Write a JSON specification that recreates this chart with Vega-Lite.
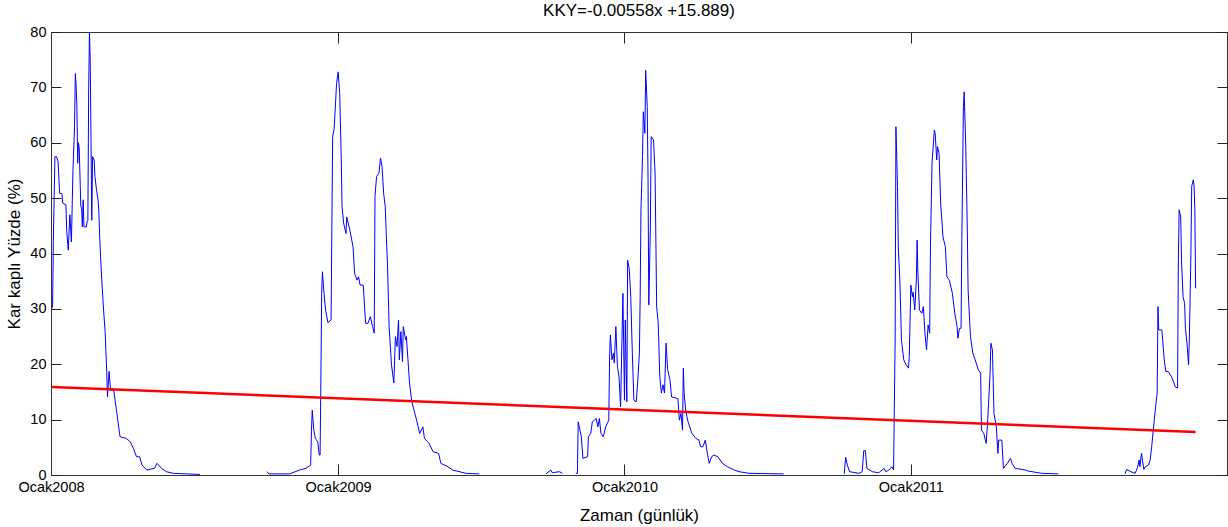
{
  "$schema": "https://vega.github.io/schema/vega-lite/v6.json",
  "width": 1176,
  "height": 443,
  "autosize": "none",
  "padding": {"left": 51, "top": 32, "right": 1, "bottom": 52},
  "background": "white",
  "config": {
    "font": "Liberation Sans",
    "view": {"stroke": "#333333", "strokeWidth": 1},
    "axis": {"grid": false, "labelFont": "Liberation Sans", "titleFont": "Liberation Sans", "labelColor": "#000000", "titleColor": "#000000", "tickColor": "#222222", "domainColor": "#333333", "labelFontSize": 14.5, "titleFontSize": 17, "titleFontWeight": "normal"},
    "title": {"font": "Liberation Sans", "fontSize": 17, "fontWeight": "normal", "color": "#000000"}
  },
  "title": {"text": "KKY=-0.00558x +15.889)", "offset": 4},
  "datasets": {
    "snow": [
      {"day": 2, "kky": 30.2, "season": 1}, {"day": 3, "kky": 42.4, "season": 1}, {"day": 5, "kky": 57.5, "season": 1}, {"day": 7, "kky": 57.5, "season": 1}, {"day": 9, "kky": 56.6, "season": 1}, {"day": 11, "kky": 50.9, "season": 1}, {"day": 14, "kky": 50.8, "season": 1}, {"day": 15, "kky": 49.1, "season": 1}, {"day": 19, "kky": 48.8, "season": 1}, {"day": 20, "kky": 44.2, "season": 1}, {"day": 22, "kky": 40.6, "season": 1}, {"day": 24, "kky": 47.0, "season": 1}, {"day": 26, "kky": 42.1, "season": 1}, {"day": 28, "kky": 55.0, "season": 1}, {"day": 30, "kky": 62.9, "season": 1}, {"day": 31, "kky": 72.5, "season": 1}, {"day": 32, "kky": 70.4, "season": 1}, {"day": 33, "kky": 66.8, "season": 1}, {"day": 34, "kky": 56.3, "season": 1}, {"day": 35, "kky": 60.0, "season": 1}, {"day": 36, "kky": 59.0, "season": 1}, {"day": 38, "kky": 48.5, "season": 1}, {"day": 39, "kky": 48.2, "season": 1}, {"day": 40, "kky": 44.8, "season": 1}, {"day": 41, "kky": 49.7, "season": 1}, {"day": 42, "kky": 44.8, "season": 1}, {"day": 45, "kky": 44.8, "season": 1}, {"day": 46, "kky": 45.7, "season": 1}, {"day": 47, "kky": 46.0, "season": 1}, {"day": 48, "kky": 69.5, "season": 1}, {"day": 49, "kky": 80.0, "season": 1}, {"day": 50, "kky": 75.0, "season": 1}, {"day": 52, "kky": 46.0, "season": 1}, {"day": 53, "kky": 57.5, "season": 1}, {"day": 55, "kky": 56.9, "season": 1}, {"day": 56, "kky": 53.9, "season": 1}, {"day": 58, "kky": 51.5, "season": 1}, {"day": 60, "kky": 49.7, "season": 1}, {"day": 61, "kky": 47.5, "season": 1}, {"day": 62, "kky": 43.3, "season": 1}, {"day": 64, "kky": 37.0, "season": 1}, {"day": 67, "kky": 29.8, "season": 1}, {"day": 69, "kky": 25.9, "season": 1}, {"day": 71, "kky": 18.7, "season": 1}, {"day": 72, "kky": 14.1, "season": 1}, {"day": 74, "kky": 18.7, "season": 1}, {"day": 76, "kky": 15.3, "season": 1}, {"day": 80, "kky": 15.3, "season": 1}, {"day": 84, "kky": 11.1, "season": 1}, {"day": 88, "kky": 6.9, "season": 1}, {"day": 96, "kky": 6.6, "season": 1}, {"day": 101, "kky": 6.0, "season": 1}, {"day": 105, "kky": 4.8, "season": 1}, {"day": 109, "kky": 3.3, "season": 1}, {"day": 113, "kky": 3.3, "season": 1}, {"day": 116, "kky": 1.8, "season": 1}, {"day": 122, "kky": 0.9, "season": 1}, {"day": 132, "kky": 1.2, "season": 1}, {"day": 135, "kky": 2.1, "season": 1}, {"day": 141, "kky": 1.2, "season": 1}, {"day": 147, "kky": 0.6, "season": 1}, {"day": 156, "kky": 0.3, "season": 1}, {"day": 190, "kky": 0.1, "season": 1},
      {"day": 275, "kky": 0.6, "season": 2}, {"day": 278, "kky": 0.2, "season": 2}, {"day": 304, "kky": 0.2, "season": 2}, {"day": 317, "kky": 0.9, "season": 2}, {"day": 325, "kky": 1.2, "season": 2}, {"day": 331, "kky": 1.8, "season": 2}, {"day": 332, "kky": 8.0, "season": 2}, {"day": 333, "kky": 11.7, "season": 2}, {"day": 335, "kky": 8.1, "season": 2}, {"day": 337, "kky": 6.6, "season": 2}, {"day": 340, "kky": 6.0, "season": 2}, {"day": 342, "kky": 3.6, "season": 2}, {"day": 343, "kky": 3.6, "season": 2}, {"day": 344, "kky": 17.2, "season": 2}, {"day": 345, "kky": 32.8, "season": 2}, {"day": 346, "kky": 36.7, "season": 2}, {"day": 348, "kky": 32.8, "season": 2}, {"day": 350, "kky": 29.8, "season": 2}, {"day": 353, "kky": 27.5, "season": 2}, {"day": 357, "kky": 28.0, "season": 2}, {"day": 358, "kky": 44.8, "season": 2}, {"day": 359, "kky": 61.1, "season": 2}, {"day": 361, "kky": 62.6, "season": 2}, {"day": 364, "kky": 70.7, "season": 2}, {"day": 366, "kky": 72.8, "season": 2}, {"day": 368, "kky": 68.9, "season": 2}, {"day": 370, "kky": 56.9, "season": 2}, {"day": 371, "kky": 48.5, "season": 2}, {"day": 373, "kky": 45.5, "season": 2}, {"day": 376, "kky": 43.6, "season": 2}, {"day": 377, "kky": 46.6, "season": 2}, {"day": 381, "kky": 44.2, "season": 2}, {"day": 385, "kky": 41.2, "season": 2}, {"day": 387, "kky": 36.4, "season": 2}, {"day": 390, "kky": 35.2, "season": 2}, {"day": 392, "kky": 35.8, "season": 2}, {"day": 394, "kky": 34.3, "season": 2}, {"day": 398, "kky": 34.3, "season": 2}, {"day": 401, "kky": 27.4, "season": 2}, {"day": 404, "kky": 27.4, "season": 2}, {"day": 407, "kky": 28.6, "season": 2}, {"day": 410, "kky": 26.8, "season": 2}, {"day": 412, "kky": 25.6, "season": 2}, {"day": 413, "kky": 50.3, "season": 2}, {"day": 415, "kky": 53.9, "season": 2}, {"day": 418, "kky": 54.5, "season": 2}, {"day": 420, "kky": 57.2, "season": 2}, {"day": 422, "kky": 55.7, "season": 2}, {"day": 424, "kky": 50.9, "season": 2}, {"day": 426, "kky": 48.5, "season": 2}, {"day": 429, "kky": 37.6, "season": 2}, {"day": 431, "kky": 26.8, "season": 2}, {"day": 434, "kky": 19.9, "season": 2}, {"day": 437, "kky": 16.6, "season": 2}, {"day": 439, "kky": 25.0, "season": 2}, {"day": 441, "kky": 23.2, "season": 2}, {"day": 443, "kky": 28.0, "season": 2}, {"day": 444, "kky": 20.8, "season": 2}, {"day": 446, "kky": 25.9, "season": 2}, {"day": 448, "kky": 20.5, "season": 2}, {"day": 449, "kky": 26.8, "season": 2}, {"day": 452, "kky": 24.4, "season": 2}, {"day": 453, "kky": 25.0, "season": 2}, {"day": 455, "kky": 20.8, "season": 2}, {"day": 457, "kky": 16.6, "season": 2}, {"day": 460, "kky": 13.2, "season": 2}, {"day": 466, "kky": 9.9, "season": 2}, {"day": 470, "kky": 7.5, "season": 2}, {"day": 474, "kky": 8.7, "season": 2}, {"day": 476, "kky": 6.6, "season": 2}, {"day": 482, "kky": 5.7, "season": 2}, {"day": 487, "kky": 4.2, "season": 2}, {"day": 494, "kky": 3.9, "season": 2}, {"day": 497, "kky": 2.1, "season": 2}, {"day": 506, "kky": 1.5, "season": 2}, {"day": 512, "kky": 0.9, "season": 2}, {"day": 529, "kky": 0.3, "season": 2}, {"day": 546, "kky": 0.2, "season": 2},
      {"day": 631, "kky": 0.2, "season": 3}, {"day": 637, "kky": 0.9, "season": 3}, {"day": 639, "kky": 0.4, "season": 3}, {"day": 648, "kky": 0.6, "season": 3}, {"day": 652, "kky": 0.3, "season": 3},
      {"day": 669, "kky": 0.3, "season": 4}, {"day": 671, "kky": 0.3, "season": 4}, {"day": 672, "kky": 9.6, "season": 4}, {"day": 676, "kky": 6.9, "season": 4}, {"day": 678, "kky": 3.0, "season": 4}, {"day": 684, "kky": 3.3, "season": 4}, {"day": 685, "kky": 6.9, "season": 4}, {"day": 688, "kky": 7.5, "season": 4}, {"day": 690, "kky": 9.6, "season": 4}, {"day": 695, "kky": 10.2, "season": 4}, {"day": 697, "kky": 8.7, "season": 4}, {"day": 699, "kky": 10.2, "season": 4}, {"day": 701, "kky": 7.5, "season": 4}, {"day": 704, "kky": 6.9, "season": 4}, {"day": 707, "kky": 8.7, "season": 4}, {"day": 711, "kky": 9.9, "season": 4}, {"day": 712, "kky": 21.4, "season": 4}, {"day": 713, "kky": 25.3, "season": 4}, {"day": 715, "kky": 20.8, "season": 4}, {"day": 717, "kky": 22.0, "season": 4}, {"day": 718, "kky": 20.2, "season": 4}, {"day": 720, "kky": 26.8, "season": 4}, {"day": 722, "kky": 19.6, "season": 4}, {"day": 724, "kky": 17.8, "season": 4}, {"day": 726, "kky": 12.3, "season": 4}, {"day": 729, "kky": 32.8, "season": 4}, {"day": 731, "kky": 13.5, "season": 4}, {"day": 732, "kky": 28.0, "season": 4}, {"day": 734, "kky": 13.2, "season": 4}, {"day": 735, "kky": 38.8, "season": 4}, {"day": 737, "kky": 37.3, "season": 4}, {"day": 739, "kky": 32.2, "season": 4}, {"day": 741, "kky": 22.0, "season": 4}, {"day": 743, "kky": 13.5, "season": 4}, {"day": 746, "kky": 13.2, "season": 4}, {"day": 748, "kky": 17.2, "season": 4}, {"day": 750, "kky": 22.0, "season": 4}, {"day": 751, "kky": 32.2, "season": 4}, {"day": 752, "kky": 47.9, "season": 4}, {"day": 754, "kky": 57.5, "season": 4}, {"day": 755, "kky": 65.6, "season": 4}, {"day": 757, "kky": 61.7, "season": 4}, {"day": 758, "kky": 73.1, "season": 4}, {"day": 760, "kky": 66.5, "season": 4}, {"day": 761, "kky": 53.9, "season": 4}, {"day": 762, "kky": 30.7, "season": 4}, {"day": 764, "kky": 44.8, "season": 4}, {"day": 765, "kky": 61.1, "season": 4}, {"day": 768, "kky": 60.5, "season": 4}, {"day": 770, "kky": 54.5, "season": 4}, {"day": 772, "kky": 30.4, "season": 4}, {"day": 774, "kky": 27.4, "season": 4}, {"day": 776, "kky": 17.8, "season": 4}, {"day": 778, "kky": 14.8, "season": 4}, {"day": 780, "kky": 16.3, "season": 4}, {"day": 782, "kky": 14.8, "season": 4}, {"day": 784, "kky": 23.8, "season": 4}, {"day": 786, "kky": 19.0, "season": 4}, {"day": 789, "kky": 17.2, "season": 4}, {"day": 791, "kky": 14.1, "season": 4}, {"day": 799, "kky": 13.8, "season": 4}, {"day": 801, "kky": 9.9, "season": 4}, {"day": 803, "kky": 11.1, "season": 4}, {"day": 805, "kky": 8.1, "season": 4}, {"day": 806, "kky": 19.3, "season": 4}, {"day": 807, "kky": 14.8, "season": 4}, {"day": 809, "kky": 11.7, "season": 4}, {"day": 812, "kky": 9.6, "season": 4}, {"day": 817, "kky": 7.5, "season": 4}, {"day": 822, "kky": 6.6, "season": 4}, {"day": 826, "kky": 6.3, "season": 4}, {"day": 828, "kky": 5.1, "season": 4}, {"day": 831, "kky": 5.1, "season": 4}, {"day": 834, "kky": 6.3, "season": 4}, {"day": 837, "kky": 3.6, "season": 4}, {"day": 839, "kky": 2.1, "season": 4}, {"day": 842, "kky": 3.3, "season": 4}, {"day": 845, "kky": 3.6, "season": 4}, {"day": 850, "kky": 3.3, "season": 4}, {"day": 856, "kky": 2.1, "season": 4}, {"day": 862, "kky": 1.5, "season": 4}, {"day": 871, "kky": 0.9, "season": 4}, {"day": 877, "kky": 0.6, "season": 4}, {"day": 890, "kky": 0.3, "season": 4}, {"day": 934, "kky": 0.2, "season": 4},
      {"day": 1011, "kky": 0.2, "season": 5}, {"day": 1013, "kky": 3.2, "season": 5}, {"day": 1015, "kky": 1.8, "season": 5}, {"day": 1018, "kky": 0.6, "season": 5}, {"day": 1030, "kky": 0.3, "season": 5}, {"day": 1034, "kky": 0.6, "season": 5}, {"day": 1036, "kky": 4.4, "season": 5}, {"day": 1038, "kky": 4.4, "season": 5}, {"day": 1040, "kky": 1.2, "season": 5}, {"day": 1047, "kky": 0.6, "season": 5}, {"day": 1055, "kky": 0.4, "season": 5}, {"day": 1062, "kky": 1.2, "season": 5}, {"day": 1064, "kky": 0.6, "season": 5}, {"day": 1068, "kky": 0.9, "season": 5}, {"day": 1072, "kky": 1.5, "season": 5}, {"day": 1074, "kky": 0.9, "season": 5}, {"day": 1076, "kky": 24.4, "season": 5}, {"day": 1077, "kky": 62.9, "season": 5}, {"day": 1079, "kky": 52.1, "season": 5}, {"day": 1080, "kky": 41.2, "season": 5}, {"day": 1082, "kky": 35.2, "season": 5}, {"day": 1084, "kky": 24.4, "season": 5}, {"day": 1087, "kky": 20.8, "season": 5}, {"day": 1090, "kky": 19.9, "season": 5}, {"day": 1093, "kky": 19.3, "season": 5}, {"day": 1094, "kky": 21.4, "season": 5}, {"day": 1096, "kky": 34.3, "season": 5}, {"day": 1098, "kky": 32.2, "season": 5}, {"day": 1099, "kky": 33.0, "season": 5}, {"day": 1101, "kky": 29.8, "season": 5}, {"day": 1103, "kky": 35.2, "season": 5}, {"day": 1104, "kky": 42.4, "season": 5}, {"day": 1105, "kky": 36.4, "season": 5}, {"day": 1107, "kky": 29.8, "season": 5}, {"day": 1110, "kky": 29.2, "season": 5}, {"day": 1112, "kky": 30.4, "season": 5}, {"day": 1114, "kky": 25.6, "season": 5}, {"day": 1116, "kky": 22.6, "season": 5}, {"day": 1118, "kky": 27.1, "season": 5}, {"day": 1120, "kky": 25.6, "season": 5}, {"day": 1121, "kky": 41.2, "season": 5}, {"day": 1123, "kky": 56.3, "season": 5}, {"day": 1126, "kky": 62.3, "season": 5}, {"day": 1127, "kky": 61.7, "season": 5}, {"day": 1129, "kky": 56.9, "season": 5}, {"day": 1130, "kky": 59.3, "season": 5}, {"day": 1132, "kky": 58.1, "season": 5}, {"day": 1134, "kky": 49.1, "season": 5}, {"day": 1137, "kky": 43.0, "season": 5}, {"day": 1140, "kky": 41.2, "season": 5}, {"day": 1142, "kky": 35.8, "season": 5}, {"day": 1145, "kky": 35.2, "season": 5}, {"day": 1149, "kky": 32.8, "season": 5}, {"day": 1152, "kky": 29.2, "season": 5}, {"day": 1155, "kky": 26.8, "season": 5}, {"day": 1156, "kky": 24.7, "season": 5}, {"day": 1158, "kky": 26.5, "season": 5}, {"day": 1160, "kky": 26.5, "season": 5}, {"day": 1161, "kky": 42.4, "season": 5}, {"day": 1163, "kky": 66.5, "season": 5}, {"day": 1164, "kky": 69.2, "season": 5}, {"day": 1166, "kky": 59.3, "season": 5}, {"day": 1168, "kky": 44.2, "season": 5}, {"day": 1169, "kky": 33.4, "season": 5}, {"day": 1172, "kky": 25.0, "season": 5}, {"day": 1175, "kky": 22.0, "season": 5}, {"day": 1178, "kky": 20.8, "season": 5}, {"day": 1182, "kky": 19.0, "season": 5}, {"day": 1185, "kky": 18.4, "season": 5}, {"day": 1186, "kky": 8.1, "season": 5}, {"day": 1189, "kky": 7.5, "season": 5}, {"day": 1192, "kky": 5.7, "season": 5}, {"day": 1194, "kky": 9.9, "season": 5}, {"day": 1197, "kky": 18.4, "season": 5}, {"day": 1198, "kky": 23.8, "season": 5}, {"day": 1200, "kky": 22.6, "season": 5}, {"day": 1202, "kky": 11.1, "season": 5}, {"day": 1205, "kky": 8.7, "season": 5}, {"day": 1207, "kky": 3.9, "season": 5}, {"day": 1208, "kky": 6.3, "season": 5}, {"day": 1212, "kky": 6.3, "season": 5}, {"day": 1214, "kky": 1.2, "season": 5}, {"day": 1219, "kky": 2.1, "season": 5}, {"day": 1223, "kky": 3.0, "season": 5}, {"day": 1225, "kky": 2.1, "season": 5}, {"day": 1229, "kky": 1.2, "season": 5}, {"day": 1242, "kky": 0.9, "season": 5}, {"day": 1246, "kky": 0.7, "season": 5}, {"day": 1263, "kky": 0.3, "season": 5}, {"day": 1284, "kky": 0.2, "season": 5},
      {"day": 1369, "kky": 0.2, "season": 6}, {"day": 1371, "kky": 1.0, "season": 6}, {"day": 1378, "kky": 0.5, "season": 6}, {"day": 1382, "kky": 0.3, "season": 6}, {"day": 1385, "kky": 1.4, "season": 6}, {"day": 1387, "kky": 2.7, "season": 6}, {"day": 1388, "kky": 1.5, "season": 6}, {"day": 1390, "kky": 3.9, "season": 6}, {"day": 1393, "kky": 1.0, "season": 6}, {"day": 1395, "kky": 1.5, "season": 6}, {"day": 1399, "kky": 1.8, "season": 6}, {"day": 1401, "kky": 2.7, "season": 6}, {"day": 1403, "kky": 5.1, "season": 6}, {"day": 1405, "kky": 8.1, "season": 6}, {"day": 1408, "kky": 12.3, "season": 6}, {"day": 1410, "kky": 14.8, "season": 6}, {"day": 1411, "kky": 30.4, "season": 6}, {"day": 1412, "kky": 26.2, "season": 6}, {"day": 1416, "kky": 26.2, "season": 6}, {"day": 1418, "kky": 22.6, "season": 6}, {"day": 1419, "kky": 20.8, "season": 6}, {"day": 1421, "kky": 18.7, "season": 6}, {"day": 1424, "kky": 18.7, "season": 6}, {"day": 1428, "kky": 17.8, "season": 6}, {"day": 1431, "kky": 16.8, "season": 6}, {"day": 1433, "kky": 15.9, "season": 6}, {"day": 1436, "kky": 15.7, "season": 6}, {"day": 1437, "kky": 38.8, "season": 6}, {"day": 1438, "kky": 47.9, "season": 6}, {"day": 1440, "kky": 46.6, "season": 6}, {"day": 1441, "kky": 38.8, "season": 6}, {"day": 1443, "kky": 32.2, "season": 6}, {"day": 1445, "kky": 31.0, "season": 6}, {"day": 1446, "kky": 26.5, "season": 6}, {"day": 1448, "kky": 23.8, "season": 6}, {"day": 1450, "kky": 19.9, "season": 6}, {"day": 1451, "kky": 24.4, "season": 6}, {"day": 1453, "kky": 40.0, "season": 6}, {"day": 1454, "kky": 52.1, "season": 6}, {"day": 1456, "kky": 53.3, "season": 6}, {"day": 1457, "kky": 52.4, "season": 6}, {"day": 1458, "kky": 47.9, "season": 6}, {"day": 1459, "kky": 33.7, "season": 6}
    ],
    "trend": [
      {"day": 1, "kky": 15.88},
      {"day": 1459, "kky": 7.75}
    ]
  },
  "layer": [
    {
      "data": {"name": "snow"},
      "mark": {"type": "line", "color": "#0000ff", "strokeWidth": 1, "interpolate": "linear"},
      "encoding": {
        "x": {"field": "day", "type": "quantitative", "scale": {"domain": [0, 1499], "nice": false, "zero": false},
          "axis": {"orient": "bottom", "values": [0, 366, 731, 1096], "labelExpr": "datum.value == 0 ? 'Ocak2008' : datum.value == 366 ? 'Ocak2009' : datum.value == 731 ? 'Ocak2010' : 'Ocak2011'", "tickSize": -11, "labelPadding": 16, "title": "Zaman (günlük)", "titlePadding": 14, "labelFlush": false, "labelOverlap": false}},
        "y": {"field": "kky", "type": "quantitative", "scale": {"domain": [0, 80], "nice": false},
          "axis": {"orient": "left", "values": [0, 10, 20, 30, 40, 50, 60, 70, 80], "tickSize": -10, "labelPadding": 15, "title": "Kar kaplı Yüzde (%)", "titlePadding": 6}},
        "detail": {"field": "season", "type": "nominal"}
      }
    },
    {
      "data": {"name": "trend"},
      "mark": {"type": "line", "color": "#ff0000", "strokeWidth": 2.5},
      "encoding": {
        "x": {"field": "day", "type": "quantitative",
          "axis": {"orient": "top", "values": [0, 366, 731, 1096], "labels": false, "domain": false, "tickSize": -11, "title": null}},
        "y": {"field": "kky", "type": "quantitative",
          "axis": {"orient": "right", "values": [0, 10, 20, 30, 40, 50, 60, 70, 80], "labels": false, "domain": false, "tickSize": -10, "title": null}}
      }
    }
  ],
  "resolve": {"axis": {"x": "independent", "y": "independent"}}
}
